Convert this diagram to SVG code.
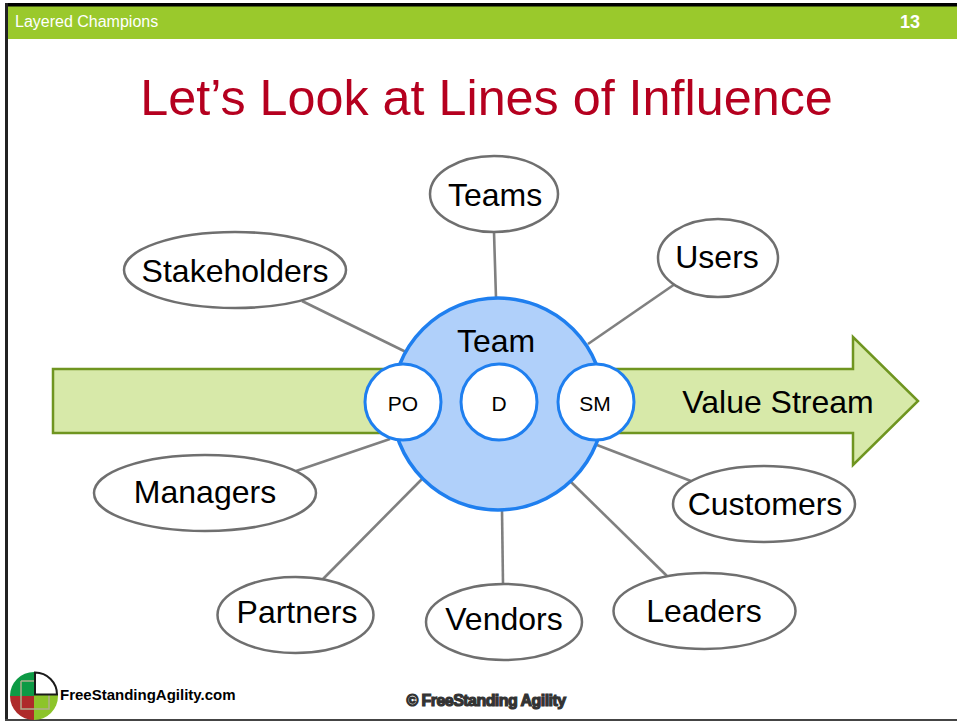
<svg xmlns="http://www.w3.org/2000/svg" width="957" height="721" viewBox="0 0 957 721">
<style>
text{font-family:"Liberation Sans",Arial,sans-serif;fill:#000}
.n{fill:#fff;stroke:#6f6f6f;stroke-width:2.5}
.l{font-size:32px;text-anchor:middle}
.c{fill:#fff;stroke:#1f7fef;stroke-width:3}
.s{font-size:21px;text-anchor:middle}
#connectors line{stroke:#808080;stroke-width:2.6}
</style>
<defs><clipPath id="lc"><circle cx="34" cy="696" r="24"/></clipPath></defs>
<rect width="957" height="721" fill="#fff"/>
<rect x="7" y="6" width="950" height="33" fill="#9ac92c"/>
<rect x="5" y="3" width="952" height="3.5" fill="#000"/>
<rect x="5" y="3" width="3" height="716" fill="#222"/>
<rect x="5" y="719" width="952" height="2" fill="#444"/>
<text x="15" y="27" style="font-size:16px;fill:#fff">Layered Champions</text>
<text x="900" y="28" style="font-size:18px;font-weight:bold;fill:#fff">13</text>
<text x="486.500" y="115" style="font-size:50.300px;text-anchor:middle;fill:#b5001f">Let’s Look at Lines of Influence</text>
<g id="value-stream">
<polygon points="53,369 853,369 853,337 918,401 853,465 853,433 53,433" fill="#d7e9a9" stroke="#6f9520" stroke-width="2.5"/>
<text x="778" y="413" class="l">Value Stream</text>
</g>
<g id="connectors">
<line x1="494" y1="232" x2="496" y2="298"/>
<line x1="675" y1="284" x2="588" y2="344"/>
<line x1="302" y1="301" x2="406" y2="352"/>
<line x1="296" y1="471" x2="390" y2="439"/>
<line x1="691" y1="481" x2="597" y2="445"/>
<line x1="323" y1="579" x2="423" y2="478"/>
<line x1="503" y1="584" x2="502" y2="510"/>
<line x1="667" y1="576" x2="571" y2="482"/>
</g>
<g id="team"><circle cx="498" cy="404" r="106" fill="#b0d0fa" stroke="#1f7fef" stroke-width="3.5"/>
<text x="496" y="352" class="l">Team</text></g>
<g id="po"><circle class="c" cx="403" cy="402" r="38"/><text x="403" y="411" class="s">PO</text></g>
<g id="d"><circle class="c" cx="499" cy="402" r="38"/><text x="499" y="411" class="s">D</text></g>
<g id="sm"><circle class="c" cx="596" cy="402" r="38"/><text x="595" y="411" class="s">SM</text></g>
<g id="teams"><ellipse class="n" cx="494" cy="194" rx="64" ry="38"/><text x="495" y="206" class="l">Teams</text></g>
<g id="users"><ellipse class="n" cx="718" cy="258" rx="60" ry="39"/><text x="717" y="268" class="l">Users</text></g>
<g id="stakeholders"><ellipse class="n" cx="235" cy="270" rx="111" ry="38"/><text x="235" y="282" class="l">Stakeholders</text></g>
<g id="managers"><ellipse class="n" cx="205" cy="493" rx="111" ry="38"/><text x="205" y="503" class="l">Managers</text></g>
<g id="customers"><ellipse class="n" cx="764" cy="504" rx="91" ry="38"/><text x="765" y="515" class="l">Customers</text></g>
<g id="partners"><ellipse class="n" cx="295.500" cy="615" rx="78" ry="38"/><text x="297" y="623" class="l">Partners</text></g>
<g id="vendors"><ellipse class="n" cx="504" cy="622" rx="78" ry="38"/><text x="504" y="630" class="l">Vendors</text></g>
<g id="leaders"><ellipse class="n" cx="704.500" cy="611" rx="91" ry="38"/><text x="704" y="622" class="l">Leaders</text></g>
<g id="logo">
<g clip-path="url(#lc)">
<rect x="10" y="671" width="24" height="25" fill="#0d9a45"/>
<rect x="10" y="696" width="24" height="24" fill="#ae2a2a"/>
<rect x="34" y="694" width="24" height="26" fill="#8cc42a"/>
<path d="M21 681H34M21 681V709H49V695" fill="none" stroke="#b0ae8e" stroke-width="1.500"/>
</g>
<path d="M35 672.500A22 22 0 0 1 57 694.500H35Z" fill="#fff" stroke="#1a1a1a" stroke-width="2"/>
<text x="60" y="700" style="font-size:15px;font-weight:bold">FreeStandingAgility.com</text>
</g>
<text x="486" y="706" style="font-size:16px;font-weight:bold;text-anchor:middle;fill:#333;stroke:#333;stroke-width:1.200;letter-spacing:-.55px">© FreeStanding Agility</text>
</svg>
